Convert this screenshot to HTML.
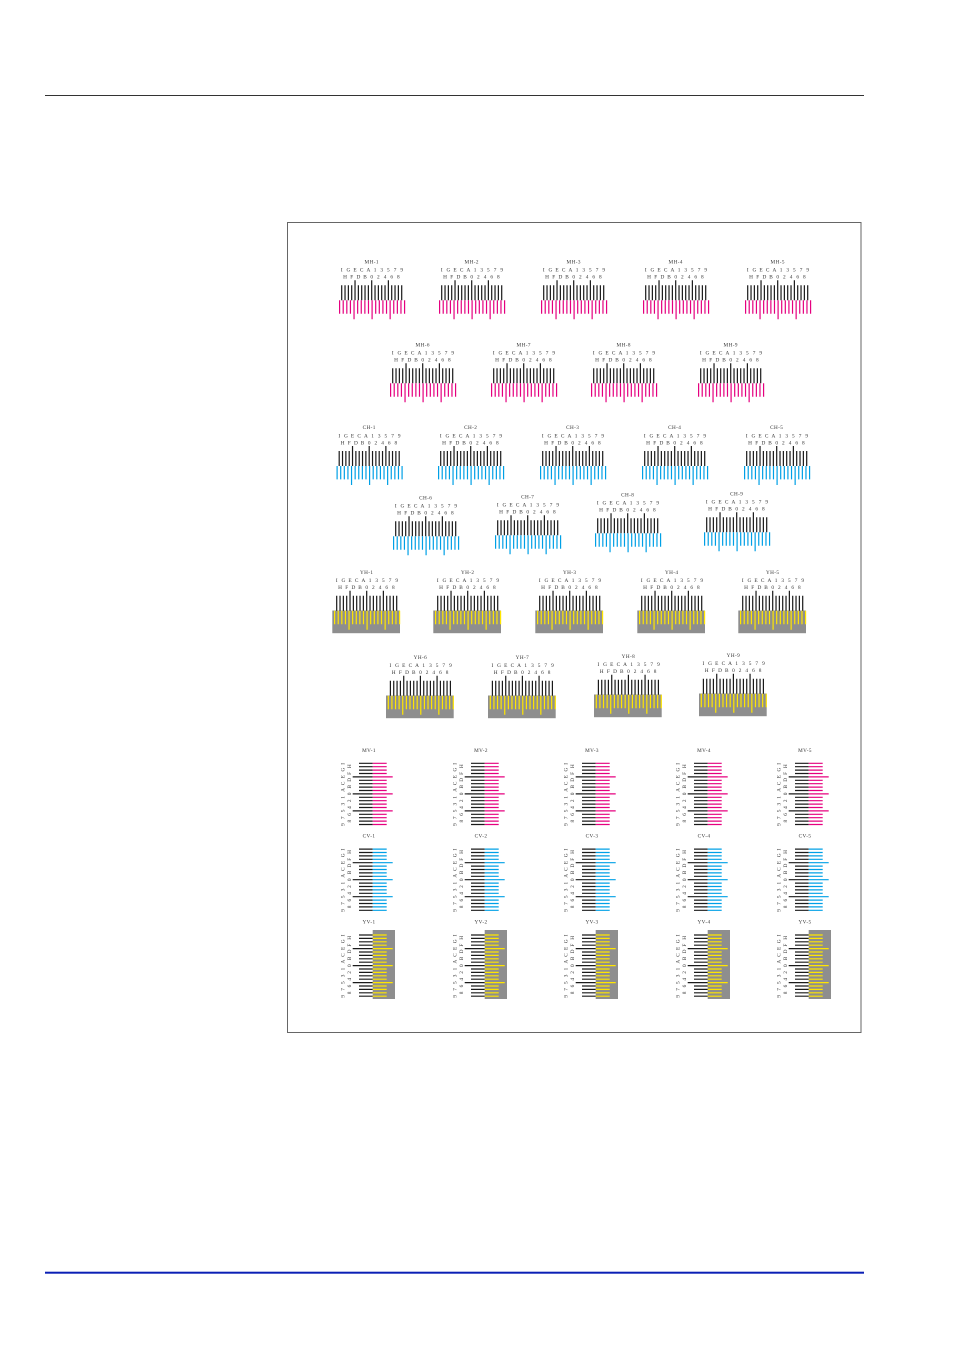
<!DOCTYPE html>
<html><head><meta charset="utf-8"><style>
html,body{margin:0;padding:0;background:#fff;}
svg{display:block;}
.l{font-family:"Liberation Serif",serif;font-size:5.2px;fill:#333;text-anchor:middle;letter-spacing:0.4px;}
.h{font-family:"Liberation Serif",serif;font-size:5.3px;fill:#333;text-anchor:middle;}
.v{font-family:"Liberation Serif",serif;font-size:5.3px;fill:#333;}
</style></head><body>
<svg width="954" height="1350" viewBox="0 0 954 1350" xmlns="http://www.w3.org/2000/svg">
<defs>
<path id="hb" fill="none" stroke="#1a1a1a" stroke-width="1.2" d="M0 5V20M3.33 5V20M6.67 5V20M10 5V20M13.33 0V20M16.67 5V20M20 5V20M23.33 5V20M26.67 5V20M30 0V20M33.33 5V20M36.67 5V20M40 5V20M43.33 5V20M46.67 0V20M50 5V20M53.33 5V20M56.67 5V20M60 5V20"/>
<path id="hc" fill="none" stroke-width="1.2" d="M-2.1 20V33.4M1.51 20V33.4M5.12 20V33.4M8.73 20V33.4M12.34 20V39M15.95 20V33.4M19.56 20V33.4M23.17 20V33.4M26.78 20V33.4M30.39 20V39M34 20V33.4M37.61 20V33.4M41.22 20V33.4M44.83 20V33.4M48.44 20V39M52.05 20V33.4M55.66 20V33.4M59.27 20V33.4M62.88 20V33.4"/>
<path id="vb" fill="none" stroke="#1a1a1a" stroke-width="1.2" d="M0 0H13.7M0 3.4H13.7M0 6.8H13.7M0 10.2H13.7M-6.3 13.6H13.7M0 17H13.7M0 20.4H13.7M0 23.8H13.7M0 27.2H13.7M-6.3 30.6H13.7M0 34H13.7M0 37.4H13.7M0 40.8H13.7M0 44.2H13.7M-6.3 47.6H13.7M0 51H13.7M0 54.4H13.7M0 57.8H13.7M0 61.2H13.7"/>
<path id="vc" fill="none" stroke-width="1.2" d="M13.7 0H27.7M13.7 3.4H27.7M13.7 6.8H27.7M13.7 10.2H27.7M13.7 13.6H33.7M13.7 17H27.7M13.7 20.4H27.7M13.7 23.8H27.7M13.7 27.2H27.7M13.7 30.6H33.7M13.7 34H27.7M13.7 37.4H27.7M13.7 40.8H27.7M13.7 44.2H27.7M13.7 47.6H33.7M13.7 51H27.7M13.7 54.4H27.7M13.7 57.8H27.7M13.7 61.2H27.7"/>
</defs>

<line x1="45" y1="95.5" x2="864" y2="95.5" stroke="#333" stroke-width="1"/>
<rect x="45" y="1271.7" width="819" height="2" fill="#0a1fb5"/>
<rect x="287.5" y="222.5" width="573.5" height="810" fill="none" stroke="#666" stroke-width="1"/>

<!-- Row 1 MH-1..5 -->
<g transform="translate(341.7,280.3)"><text class="l" x="30" y="-16.9">MH-1</text><text class="h" x="0 6.67 13.33 20 26.67 33.33 40 46.67 53.33 60" y="-8.6">IGECA13579</text><text class="h" x="3.33 10 16.67 23.33 30 36.67 43.33 50 56.67" y="-1.6">HFDB02468</text><use href="#hb"/><use href="#hc" stroke="#e5007f"/></g>
<g transform="translate(441.7,280.3)"><text class="l" x="30" y="-16.9">MH-2</text><text class="h" x="0 6.67 13.33 20 26.67 33.33 40 46.67 53.33 60" y="-8.6">IGECA13579</text><text class="h" x="3.33 10 16.67 23.33 30 36.67 43.33 50 56.67" y="-1.6">HFDB02468</text><use href="#hb"/><use href="#hc" stroke="#e5007f"/></g>
<g transform="translate(543.7,280.3)"><text class="l" x="30" y="-16.9">MH-3</text><text class="h" x="0 6.67 13.33 20 26.67 33.33 40 46.67 53.33 60" y="-8.6">IGECA13579</text><text class="h" x="3.33 10 16.67 23.33 30 36.67 43.33 50 56.67" y="-1.6">HFDB02468</text><use href="#hb"/><use href="#hc" stroke="#e5007f"/></g>
<g transform="translate(645.7,280.3)"><text class="l" x="30" y="-16.9">MH-4</text><text class="h" x="0 6.67 13.33 20 26.67 33.33 40 46.67 53.33 60" y="-8.6">IGECA13579</text><text class="h" x="3.33 10 16.67 23.33 30 36.67 43.33 50 56.67" y="-1.6">HFDB02468</text><use href="#hb"/><use href="#hc" stroke="#e5007f"/></g>
<g transform="translate(747.7,280.3)"><text class="l" x="30" y="-16.9">MH-5</text><text class="h" x="0 6.67 13.33 20 26.67 33.33 40 46.67 53.33 60" y="-8.6">IGECA13579</text><text class="h" x="3.33 10 16.67 23.33 30 36.67 43.33 50 56.67" y="-1.6">HFDB02468</text><use href="#hb"/><use href="#hc" stroke="#e5007f"/></g>

<!-- Row 2 MH-6..9 -->
<g transform="translate(392.7,363.3)"><text class="l" x="30" y="-16.9">MH-6</text><text class="h" x="0 6.67 13.33 20 26.67 33.33 40 46.67 53.33 60" y="-8.6">IGECA13579</text><text class="h" x="3.33 10 16.67 23.33 30 36.67 43.33 50 56.67" y="-1.6">HFDB02468</text><use href="#hb"/><use href="#hc" stroke="#e5007f"/></g>
<g transform="translate(493.7,363.3)"><text class="l" x="30" y="-16.9">MH-7</text><text class="h" x="0 6.67 13.33 20 26.67 33.33 40 46.67 53.33 60" y="-8.6">IGECA13579</text><text class="h" x="3.33 10 16.67 23.33 30 36.67 43.33 50 56.67" y="-1.6">HFDB02468</text><use href="#hb"/><use href="#hc" stroke="#e5007f"/></g>
<g transform="translate(593.7,363.3)"><text class="l" x="30" y="-16.9">MH-8</text><text class="h" x="0 6.67 13.33 20 26.67 33.33 40 46.67 53.33 60" y="-8.6">IGECA13579</text><text class="h" x="3.33 10 16.67 23.33 30 36.67 43.33 50 56.67" y="-1.6">HFDB02468</text><use href="#hb"/><use href="#hc" stroke="#e5007f"/></g>
<g transform="translate(700.7,363.3)"><text class="l" x="30" y="-16.9">MH-9</text><text class="h" x="0 6.67 13.33 20 26.67 33.33 40 46.67 53.33 60" y="-8.6">IGECA13579</text><text class="h" x="3.33 10 16.67 23.33 30 36.67 43.33 50 56.67" y="-1.6">HFDB02468</text><use href="#hb"/><use href="#hc" stroke="#e5007f"/></g>

<!-- Row 3 CH-1..5 -->
<g transform="translate(339.2,446)"><text class="l" x="30" y="-16.9">CH-1</text><text class="h" x="0 6.67 13.33 20 26.67 33.33 40 46.67 53.33 60" y="-8.6">IGECA13579</text><text class="h" x="3.33 10 16.67 23.33 30 36.67 43.33 50 56.67" y="-1.6">HFDB02468</text><use href="#hb"/><use href="#hc" stroke="#00a0e6"/></g>
<g transform="translate(440.7,446)"><text class="l" x="30" y="-16.9">CH-2</text><text class="h" x="0 6.67 13.33 20 26.67 33.33 40 46.67 53.33 60" y="-8.6">IGECA13579</text><text class="h" x="3.33 10 16.67 23.33 30 36.67 43.33 50 56.67" y="-1.6">HFDB02468</text><use href="#hb"/><use href="#hc" stroke="#00a0e6"/></g>
<g transform="translate(542.7,446)"><text class="l" x="30" y="-16.9">CH-3</text><text class="h" x="0 6.67 13.33 20 26.67 33.33 40 46.67 53.33 60" y="-8.6">IGECA13579</text><text class="h" x="3.33 10 16.67 23.33 30 36.67 43.33 50 56.67" y="-1.6">HFDB02468</text><use href="#hb"/><use href="#hc" stroke="#00a0e6"/></g>
<g transform="translate(644.7,446)"><text class="l" x="30" y="-16.9">CH-4</text><text class="h" x="0 6.67 13.33 20 26.67 33.33 40 46.67 53.33 60" y="-8.6">IGECA13579</text><text class="h" x="3.33 10 16.67 23.33 30 36.67 43.33 50 56.67" y="-1.6">HFDB02468</text><use href="#hb"/><use href="#hc" stroke="#00a0e6"/></g>
<g transform="translate(746.7,446)"><text class="l" x="30" y="-16.9">CH-5</text><text class="h" x="0 6.67 13.33 20 26.67 33.33 40 46.67 53.33 60" y="-8.6">IGECA13579</text><text class="h" x="3.33 10 16.67 23.33 30 36.67 43.33 50 56.67" y="-1.6">HFDB02468</text><use href="#hb"/><use href="#hc" stroke="#00a0e6"/></g>

<!-- Row 4 CH-6..9 -->
<g transform="translate(395.7,516.3)"><text class="l" x="30" y="-16.9">CH-6</text><text class="h" x="0 6.67 13.33 20 26.67 33.33 40 46.67 53.33 60" y="-8.6">IGECA13579</text><text class="h" x="3.33 10 16.67 23.33 30 36.67 43.33 50 56.67" y="-1.6">HFDB02468</text><use href="#hb"/><use href="#hc" stroke="#00a0e6"/></g>
<g transform="translate(497.7,515.3)"><text class="l" x="30" y="-16.9">CH-7</text><text class="h" x="0 6.67 13.33 20 26.67 33.33 40 46.67 53.33 60" y="-8.6">IGECA13579</text><text class="h" x="3.33 10 16.67 23.33 30 36.67 43.33 50 56.67" y="-1.6">HFDB02468</text><use href="#hb"/><use href="#hc" stroke="#00a0e6"/></g>
<g transform="translate(597.7,513.3)"><text class="l" x="30" y="-16.9">CH-8</text><text class="h" x="0 6.67 13.33 20 26.67 33.33 40 46.67 53.33 60" y="-8.6">IGECA13579</text><text class="h" x="3.33 10 16.67 23.33 30 36.67 43.33 50 56.67" y="-1.6">HFDB02468</text><use href="#hb"/><use href="#hc" stroke="#00a0e6"/></g>
<g transform="translate(706.7,512.3)"><text class="l" x="30" y="-16.9">CH-9</text><text class="h" x="0 6.67 13.33 20 26.67 33.33 40 46.67 53.33 60" y="-8.6">IGECA13579</text><text class="h" x="3.33 10 16.67 23.33 30 36.67 43.33 50 56.67" y="-1.6">HFDB02468</text><use href="#hb"/><use href="#hc" stroke="#00a0e6"/></g>

<!-- Row 5 YH-1..5 -->
<g transform="translate(336.7,590.8)"><text class="l" x="30" y="-16.9">YH-1</text><text class="h" x="0 6.67 13.33 20 26.67 33.33 40 46.67 53.33 60" y="-8.6">IGECA13579</text><text class="h" x="3.33 10 16.67 23.33 30 36.67 43.33 50 56.67" y="-1.6">HFDB02468</text><rect x="-4.4" y="19.7" width="67.7" height="22.7" fill="#8e8e8e"/><use href="#hb"/><use href="#hc" stroke="#ffe600"/></g>
<g transform="translate(437.7,590.8)"><text class="l" x="30" y="-16.9">YH-2</text><text class="h" x="0 6.67 13.33 20 26.67 33.33 40 46.67 53.33 60" y="-8.6">IGECA13579</text><text class="h" x="3.33 10 16.67 23.33 30 36.67 43.33 50 56.67" y="-1.6">HFDB02468</text><rect x="-4.4" y="19.7" width="67.7" height="22.7" fill="#8e8e8e"/><use href="#hb"/><use href="#hc" stroke="#ffe600"/></g>
<g transform="translate(539.7,590.8)"><text class="l" x="30" y="-16.9">YH-3</text><text class="h" x="0 6.67 13.33 20 26.67 33.33 40 46.67 53.33 60" y="-8.6">IGECA13579</text><text class="h" x="3.33 10 16.67 23.33 30 36.67 43.33 50 56.67" y="-1.6">HFDB02468</text><rect x="-4.4" y="19.7" width="67.7" height="22.7" fill="#8e8e8e"/><use href="#hb"/><use href="#hc" stroke="#ffe600"/></g>
<g transform="translate(641.7,590.8)"><text class="l" x="30" y="-16.9">YH-4</text><text class="h" x="0 6.67 13.33 20 26.67 33.33 40 46.67 53.33 60" y="-8.6">IGECA13579</text><text class="h" x="3.33 10 16.67 23.33 30 36.67 43.33 50 56.67" y="-1.6">HFDB02468</text><rect x="-4.4" y="19.7" width="67.7" height="22.7" fill="#8e8e8e"/><use href="#hb"/><use href="#hc" stroke="#ffe600"/></g>
<g transform="translate(742.7,590.8)"><text class="l" x="30" y="-16.9">YH-5</text><text class="h" x="0 6.67 13.33 20 26.67 33.33 40 46.67 53.33 60" y="-8.6">IGECA13579</text><text class="h" x="3.33 10 16.67 23.33 30 36.67 43.33 50 56.67" y="-1.6">HFDB02468</text><rect x="-4.4" y="19.7" width="67.7" height="22.7" fill="#8e8e8e"/><use href="#hb"/><use href="#hc" stroke="#ffe600"/></g>

<!-- Row 6 YH-6..9 -->
<g transform="translate(390.4,675.8)"><text class="l" x="30" y="-16.9">YH-6</text><text class="h" x="0 6.67 13.33 20 26.67 33.33 40 46.67 53.33 60" y="-8.6">IGECA13579</text><text class="h" x="3.33 10 16.67 23.33 30 36.67 43.33 50 56.67" y="-1.6">HFDB02468</text><rect x="-4.4" y="19.7" width="67.7" height="22.7" fill="#8e8e8e"/><use href="#hb"/><use href="#hc" stroke="#ffe600"/></g>
<g transform="translate(492.4,675.8)"><text class="l" x="30" y="-16.9">YH-7</text><text class="h" x="0 6.67 13.33 20 26.67 33.33 40 46.67 53.33 60" y="-8.6">IGECA13579</text><text class="h" x="3.33 10 16.67 23.33 30 36.67 43.33 50 56.67" y="-1.6">HFDB02468</text><rect x="-4.4" y="19.7" width="67.7" height="22.7" fill="#8e8e8e"/><use href="#hb"/><use href="#hc" stroke="#ffe600"/></g>
<g transform="translate(598.4,674.8)"><text class="l" x="30" y="-16.9">YH-8</text><text class="h" x="0 6.67 13.33 20 26.67 33.33 40 46.67 53.33 60" y="-8.6">IGECA13579</text><text class="h" x="3.33 10 16.67 23.33 30 36.67 43.33 50 56.67" y="-1.6">HFDB02468</text><rect x="-4.4" y="19.7" width="67.7" height="22.7" fill="#8e8e8e"/><use href="#hb"/><use href="#hc" stroke="#ffe600"/></g>
<g transform="translate(703.4,673.8)"><text class="l" x="30" y="-16.9">YH-9</text><text class="h" x="0 6.67 13.33 20 26.67 33.33 40 46.67 53.33 60" y="-8.6">IGECA13579</text><text class="h" x="3.33 10 16.67 23.33 30 36.67 43.33 50 56.67" y="-1.6">HFDB02468</text><rect x="-4.4" y="19.7" width="67.7" height="22.7" fill="#8e8e8e"/><use href="#hb"/><use href="#hc" stroke="#ffe600"/></g>

<!-- Row 7 MV-1..5 -->
<g transform="translate(359,763.3)"><text class="l" x="10" y="-11.5">MV-1</text><text class="v" x="-14.6 -14.6 -14.6 -14.6 -14.6 -14.6 -14.6 -14.6 -14.6 -14.6" y="1.4 8.2 15 21.8 28.6 35.4 42.2 49 55.8 62.6" rotate="-90">IGECA13579</text><text class="v" x="-8 -8 -8 -8 -8 -8 -8 -8 -8" y="4.8 11.6 18.4 25.2 32 38.8 45.6 52.4 59.2" rotate="-90">HFDB02468</text><use href="#vb"/><use href="#vc" stroke="#e5007f"/></g>
<g transform="translate(471,763.3)"><text class="l" x="10" y="-11.5">MV-2</text><text class="v" x="-14.6 -14.6 -14.6 -14.6 -14.6 -14.6 -14.6 -14.6 -14.6 -14.6" y="1.4 8.2 15 21.8 28.6 35.4 42.2 49 55.8 62.6" rotate="-90">IGECA13579</text><text class="v" x="-8 -8 -8 -8 -8 -8 -8 -8 -8" y="4.8 11.6 18.4 25.2 32 38.8 45.6 52.4 59.2" rotate="-90">HFDB02468</text><use href="#vb"/><use href="#vc" stroke="#e5007f"/></g>
<g transform="translate(582,763.3)"><text class="l" x="10" y="-11.5">MV-3</text><text class="v" x="-14.6 -14.6 -14.6 -14.6 -14.6 -14.6 -14.6 -14.6 -14.6 -14.6" y="1.4 8.2 15 21.8 28.6 35.4 42.2 49 55.8 62.6" rotate="-90">IGECA13579</text><text class="v" x="-8 -8 -8 -8 -8 -8 -8 -8 -8" y="4.8 11.6 18.4 25.2 32 38.8 45.6 52.4 59.2" rotate="-90">HFDB02468</text><use href="#vb"/><use href="#vc" stroke="#e5007f"/></g>
<g transform="translate(694,763.3)"><text class="l" x="10" y="-11.5">MV-4</text><text class="v" x="-14.6 -14.6 -14.6 -14.6 -14.6 -14.6 -14.6 -14.6 -14.6 -14.6" y="1.4 8.2 15 21.8 28.6 35.4 42.2 49 55.8 62.6" rotate="-90">IGECA13579</text><text class="v" x="-8 -8 -8 -8 -8 -8 -8 -8 -8" y="4.8 11.6 18.4 25.2 32 38.8 45.6 52.4 59.2" rotate="-90">HFDB02468</text><use href="#vb"/><use href="#vc" stroke="#e5007f"/></g>
<g transform="translate(795,763.3)"><text class="l" x="10" y="-11.5">MV-5</text><text class="v" x="-14.6 -14.6 -14.6 -14.6 -14.6 -14.6 -14.6 -14.6 -14.6 -14.6" y="1.4 8.2 15 21.8 28.6 35.4 42.2 49 55.8 62.6" rotate="-90">IGECA13579</text><text class="v" x="-8 -8 -8 -8 -8 -8 -8 -8 -8" y="4.8 11.6 18.4 25.2 32 38.8 45.6 52.4 59.2" rotate="-90">HFDB02468</text><use href="#vb"/><use href="#vc" stroke="#e5007f"/></g>

<!-- Row 8 CV-1..5 -->
<g transform="translate(359,849.1)"><text class="l" x="10" y="-11.5">CV-1</text><text class="v" x="-14.6 -14.6 -14.6 -14.6 -14.6 -14.6 -14.6 -14.6 -14.6 -14.6" y="1.4 8.2 15 21.8 28.6 35.4 42.2 49 55.8 62.6" rotate="-90">IGECA13579</text><text class="v" x="-8 -8 -8 -8 -8 -8 -8 -8 -8" y="4.8 11.6 18.4 25.2 32 38.8 45.6 52.4 59.2" rotate="-90">HFDB02468</text><use href="#vb"/><use href="#vc" stroke="#00a0e6"/></g>
<g transform="translate(471,849.1)"><text class="l" x="10" y="-11.5">CV-2</text><text class="v" x="-14.6 -14.6 -14.6 -14.6 -14.6 -14.6 -14.6 -14.6 -14.6 -14.6" y="1.4 8.2 15 21.8 28.6 35.4 42.2 49 55.8 62.6" rotate="-90">IGECA13579</text><text class="v" x="-8 -8 -8 -8 -8 -8 -8 -8 -8" y="4.8 11.6 18.4 25.2 32 38.8 45.6 52.4 59.2" rotate="-90">HFDB02468</text><use href="#vb"/><use href="#vc" stroke="#00a0e6"/></g>
<g transform="translate(582,849.1)"><text class="l" x="10" y="-11.5">CV-3</text><text class="v" x="-14.6 -14.6 -14.6 -14.6 -14.6 -14.6 -14.6 -14.6 -14.6 -14.6" y="1.4 8.2 15 21.8 28.6 35.4 42.2 49 55.8 62.6" rotate="-90">IGECA13579</text><text class="v" x="-8 -8 -8 -8 -8 -8 -8 -8 -8" y="4.8 11.6 18.4 25.2 32 38.8 45.6 52.4 59.2" rotate="-90">HFDB02468</text><use href="#vb"/><use href="#vc" stroke="#00a0e6"/></g>
<g transform="translate(694,849.1)"><text class="l" x="10" y="-11.5">CV-4</text><text class="v" x="-14.6 -14.6 -14.6 -14.6 -14.6 -14.6 -14.6 -14.6 -14.6 -14.6" y="1.4 8.2 15 21.8 28.6 35.4 42.2 49 55.8 62.6" rotate="-90">IGECA13579</text><text class="v" x="-8 -8 -8 -8 -8 -8 -8 -8 -8" y="4.8 11.6 18.4 25.2 32 38.8 45.6 52.4 59.2" rotate="-90">HFDB02468</text><use href="#vb"/><use href="#vc" stroke="#00a0e6"/></g>
<g transform="translate(795,849.1)"><text class="l" x="10" y="-11.5">CV-5</text><text class="v" x="-14.6 -14.6 -14.6 -14.6 -14.6 -14.6 -14.6 -14.6 -14.6 -14.6" y="1.4 8.2 15 21.8 28.6 35.4 42.2 49 55.8 62.6" rotate="-90">IGECA13579</text><text class="v" x="-8 -8 -8 -8 -8 -8 -8 -8 -8" y="4.8 11.6 18.4 25.2 32 38.8 45.6 52.4 59.2" rotate="-90">HFDB02468</text><use href="#vb"/><use href="#vc" stroke="#00a0e6"/></g>

<!-- Row 9 YV-1..5 -->
<g transform="translate(359,935)"><text class="l" x="10" y="-11.5">YV-1</text><text class="v" x="-14.6 -14.6 -14.6 -14.6 -14.6 -14.6 -14.6 -14.6 -14.6 -14.6" y="1.4 8.2 15 21.8 28.6 35.4 42.2 49 55.8 62.6" rotate="-90">IGECA13579</text><text class="v" x="-8 -8 -8 -8 -8 -8 -8 -8 -8" y="4.8 11.6 18.4 25.2 32 38.8 45.6 52.4 59.2" rotate="-90">HFDB02468</text><rect x="13.7" y="-5" width="22.3" height="69" fill="#8e8e8e"/><use href="#vb"/><use href="#vc" stroke="#ffe600"/></g>
<g transform="translate(471,935)"><text class="l" x="10" y="-11.5">YV-2</text><text class="v" x="-14.6 -14.6 -14.6 -14.6 -14.6 -14.6 -14.6 -14.6 -14.6 -14.6" y="1.4 8.2 15 21.8 28.6 35.4 42.2 49 55.8 62.6" rotate="-90">IGECA13579</text><text class="v" x="-8 -8 -8 -8 -8 -8 -8 -8 -8" y="4.8 11.6 18.4 25.2 32 38.8 45.6 52.4 59.2" rotate="-90">HFDB02468</text><rect x="13.7" y="-5" width="22.3" height="69" fill="#8e8e8e"/><use href="#vb"/><use href="#vc" stroke="#ffe600"/></g>
<g transform="translate(582,935)"><text class="l" x="10" y="-11.5">YV-3</text><text class="v" x="-14.6 -14.6 -14.6 -14.6 -14.6 -14.6 -14.6 -14.6 -14.6 -14.6" y="1.4 8.2 15 21.8 28.6 35.4 42.2 49 55.8 62.6" rotate="-90">IGECA13579</text><text class="v" x="-8 -8 -8 -8 -8 -8 -8 -8 -8" y="4.8 11.6 18.4 25.2 32 38.8 45.6 52.4 59.2" rotate="-90">HFDB02468</text><rect x="13.7" y="-5" width="22.3" height="69" fill="#8e8e8e"/><use href="#vb"/><use href="#vc" stroke="#ffe600"/></g>
<g transform="translate(694,935)"><text class="l" x="10" y="-11.5">YV-4</text><text class="v" x="-14.6 -14.6 -14.6 -14.6 -14.6 -14.6 -14.6 -14.6 -14.6 -14.6" y="1.4 8.2 15 21.8 28.6 35.4 42.2 49 55.8 62.6" rotate="-90">IGECA13579</text><text class="v" x="-8 -8 -8 -8 -8 -8 -8 -8 -8" y="4.8 11.6 18.4 25.2 32 38.8 45.6 52.4 59.2" rotate="-90">HFDB02468</text><rect x="13.7" y="-5" width="22.3" height="69" fill="#8e8e8e"/><use href="#vb"/><use href="#vc" stroke="#ffe600"/></g>
<g transform="translate(795,935)"><text class="l" x="10" y="-11.5">YV-5</text><text class="v" x="-14.6 -14.6 -14.6 -14.6 -14.6 -14.6 -14.6 -14.6 -14.6 -14.6" y="1.4 8.2 15 21.8 28.6 35.4 42.2 49 55.8 62.6" rotate="-90">IGECA13579</text><text class="v" x="-8 -8 -8 -8 -8 -8 -8 -8 -8" y="4.8 11.6 18.4 25.2 32 38.8 45.6 52.4 59.2" rotate="-90">HFDB02468</text><rect x="13.7" y="-5" width="22.3" height="69" fill="#8e8e8e"/><use href="#vb"/><use href="#vc" stroke="#ffe600"/></g>
</svg>
</body></html>
